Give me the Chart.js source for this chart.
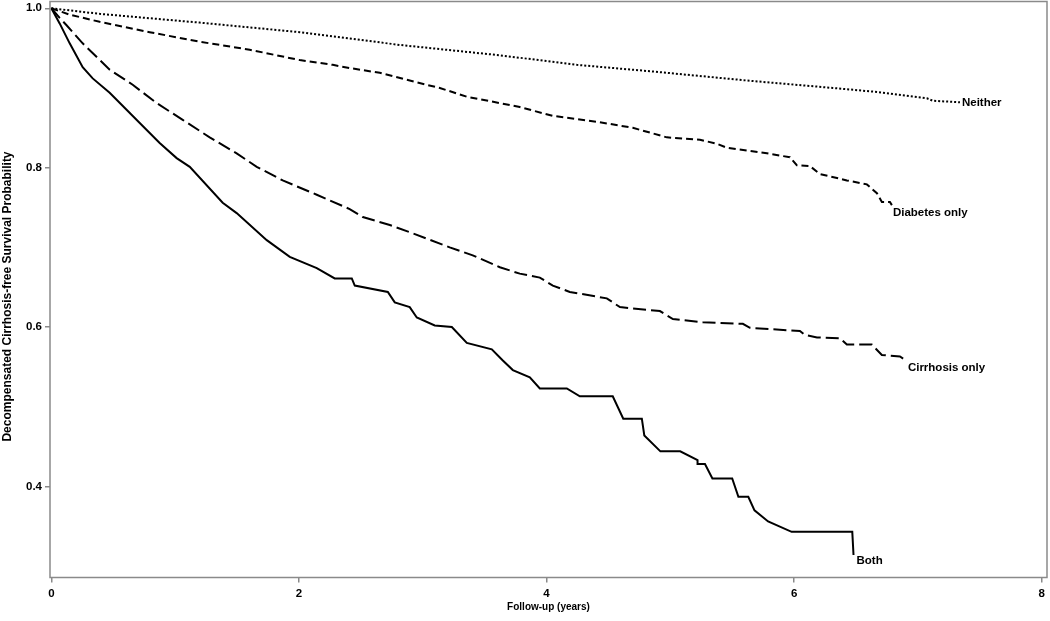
<!DOCTYPE html>
<html>
<head>
<meta charset="utf-8">
<script src="https://cdn.jsdelivr.net/npm/chart.js@4"></script>
<style>
  body { margin: 0; background: #fff; }
</style>
</head>
<body>
<canvas id="grafico" width="1050" height="621"></canvas>
<script>
// Curvas de sobrevida (tempo em anos, probabilidade)
const neitherTime = [0, 0.39, 1.198, 2.006, 2.814, 3.623, 4.245, 4.835, 4.972, 5.643, 6.313, 6.669, 7.073, 7.121, 7.34];
const neitherSurv = [1, 0.993, 0.982, 0.970, 0.954, 0.941, 0.929, 0.921, 0.919, 0.909, 0.900, 0.895, 0.887, 0.884, 0.882];

const diabetesTime = [0, 0.148, 0.39, 0.794, 1.198, 1.602, 2.006, 2.273, 2.41, 2.653, 2.952, 3.138, 3.356, 3.623, 3.784, 4.051, 4.431, 4.697, 4.972, 5.239, 5.376, 5.457, 5.78, 5.966, 6.022, 6.128, 6.208, 6.426, 6.588, 6.669, 6.709, 6.774, 6.79];
const diabetesSurv = [1, 0.992, 0.983, 0.970, 0.958, 0.948, 0.935, 0.929, 0.925, 0.919, 0.907, 0.900, 0.889, 0.881, 0.876, 0.865, 0.857, 0.850, 0.838, 0.835, 0.830, 0.825, 0.818, 0.813, 0.803, 0.802, 0.792, 0.784, 0.779, 0.768, 0.757, 0.757, 0.753];

const cirrhosisTime = [0, 0.067, 0.121, 0.253, 0.471, 0.657, 0.851, 1.061, 1.279, 1.497, 1.659, 1.869, 2.144, 2.41, 2.516, 2.734, 2.895, 3.032, 3.218, 3.404, 3.623, 3.784, 3.946, 4.051, 4.188, 4.487, 4.593, 4.916, 5.021, 5.263, 5.586, 5.643, 6.047, 6.088, 6.185, 6.371, 6.426, 6.628, 6.709, 6.855, 6.895];
const cirrhosisSurv = [1, 0.988, 0.979, 0.956, 0.923, 0.904, 0.881, 0.860, 0.838, 0.818, 0.801, 0.784, 0.766, 0.748, 0.738, 0.728, 0.719, 0.711, 0.700, 0.690, 0.675, 0.667, 0.662, 0.652, 0.644, 0.636, 0.625, 0.620, 0.610, 0.606, 0.604, 0.599, 0.595, 0.590, 0.587, 0.586, 0.578, 0.578, 0.565, 0.563, 0.559];

const bothTime = [0, 0.067, 0.148, 0.253, 0.334, 0.471, 0.714, 0.875, 1.012, 1.118, 1.384, 1.497, 1.74, 1.926, 2.144, 2.289, 2.427, 2.451, 2.718, 2.774, 2.895, 2.952, 3.097, 3.235, 3.356, 3.558, 3.647, 3.728, 3.865, 3.946, 4.164, 4.269, 4.535, 4.62, 4.77, 4.79, 4.92, 5.08, 5.22, 5.22, 5.28, 5.34, 5.50, 5.55, 5.63, 5.68, 5.79, 5.98, 6.47, 6.48];
const bothSurv = [1, 0.981, 0.956, 0.926, 0.912, 0.894, 0.856, 0.831, 0.812, 0.801, 0.756, 0.743, 0.709, 0.688, 0.674, 0.661, 0.661, 0.652, 0.644, 0.631, 0.625, 0.612, 0.602, 0.600, 0.580, 0.572, 0.558, 0.546, 0.537, 0.523, 0.523, 0.513, 0.513, 0.485, 0.485, 0.464, 0.444, 0.444, 0.433, 0.428, 0.428, 0.410, 0.410, 0.387, 0.387, 0.370, 0.356, 0.343, 0.343, 0.314];

const seriesNames = ["Neither", "Diabetes only", "Cirrhosis only", "Both"];
const xTicks = [0, 2, 4, 6, 8];
const yTicks = [0.4, 0.6, 0.8, 1.0];

const cinza = "#8a8a8a";
const familia = "'Liberation Sans', Arial, sans-serif";

function pares(t, s) {
  return t.map((v, i) => ({ x: v, y: s[i] }));
}

function serie(nome, t, s, dash) {
  return {
    label: nome,
    data: pares(t, s),
    borderColor: "#000",
    borderWidth: 2,
    borderDash: dash,
    pointRadius: 0,
    tension: 0,
    fill: false
  };
}

// deslocamento dos rótulos a partir do último ponto de cada curva
const rotuloOffset = [[2, 1], [1, 8], [3, 8], [3, 6]];

const rotulosPlugin = {
  id: "rotulos",
  afterDraw(chart) {
    const ctx = chart.ctx;
    const a = chart.chartArea;
    const xs = chart.scales.x, ys = chart.scales.y;
    ctx.save();
    // moldura
    ctx.strokeStyle = cinza;
    ctx.lineWidth = 1.5;
    ctx.strokeRect(a.left, a.top, a.right - a.left, a.bottom - a.top);

    ctx.fillStyle = "#000";
    ctx.font = "bold 11.5px " + familia;
    ctx.textBaseline = "middle";
    ctx.textAlign = "left";
    chart.data.datasets.forEach((ds, i) => {
      const p = ds.data[ds.data.length - 1];
      const px = xs.getPixelForValue(p.x) + rotuloOffset[i][0];
      const py = ys.getPixelForValue(p.y) + rotuloOffset[i][1];
      ctx.fillText(ds.label, px, py);
    });

    // títulos dos eixos
    ctx.font = "bold 10px " + familia;
    ctx.textAlign = "center";
    ctx.fillText("Follow-up (years)", (a.left + a.right) / 2, 607);
    ctx.font = "bold 12px " + familia;
    ctx.translate(8, (a.top + a.bottom) / 2 + 7);
    ctx.rotate(-Math.PI / 2);
    ctx.fillText("Decompensated Cirrhosis-free Survival Probability", 0, 0);
    ctx.restore();
  }
};

new Chart(document.getElementById("grafico"), {
  type: "line",
  data: {
    datasets: [
      serie(seriesNames[0], neitherTime, neitherSurv, [2, 2]),
      serie(seriesNames[1], diabetesTime, diabetesSurv, [7, 4]),
      serie(seriesNames[2], cirrhosisTime, cirrhosisSurv, [13, 5]),
      serie(seriesNames[3], bothTime, bothSurv, [])
    ]
  },
  options: {
    responsive: false,
    animation: false,
    layout: { padding: { top: 1.5, right: 3, left: 0, bottom: 0 } },
    plugins: {
      legend: { display: false },
      tooltip: { enabled: false }
    },
    scales: {
      x: {
        type: "linear",
        min: -0.011,
        max: 8.043,
        afterBuildTicks: s => { s.ticks = xTicks.map(v => ({ value: v })); },
        afterFit: s => { s.height = 43.5; s.paddingLeft = 0; s.paddingRight = 0; },
        ticks: {
          color: "#000",
          font: { family: familia, size: 11.5, weight: "bold" },
          padding: 4,
          maxRotation: 0,
          callback: v => String(v)
        },
        grid: { drawOnChartArea: false, drawTicks: true, tickLength: 5, color: cinza, lineWidth: 1.5 },
        border: { display: false }
      },
      y: {
        type: "linear",
        min: 0.2857,
        max: 1.0085,
        afterBuildTicks: s => { s.ticks = yTicks.map(v => ({ value: v })); },
        afterFit: s => { s.width = 50; s.paddingTop = 0; s.paddingBottom = 0; },
        ticks: {
          color: "#000",
          font: { family: familia, size: 11.5, weight: "bold" },
          padding: 3,
          callback: v => v.toFixed(1)
        },
        grid: { drawOnChartArea: false, drawTicks: true, tickLength: 5, color: cinza, lineWidth: 1.5 },
        border: { display: false }
      }
    }
  },
  plugins: [rotulosPlugin]
});
</script>
</body>
</html>
